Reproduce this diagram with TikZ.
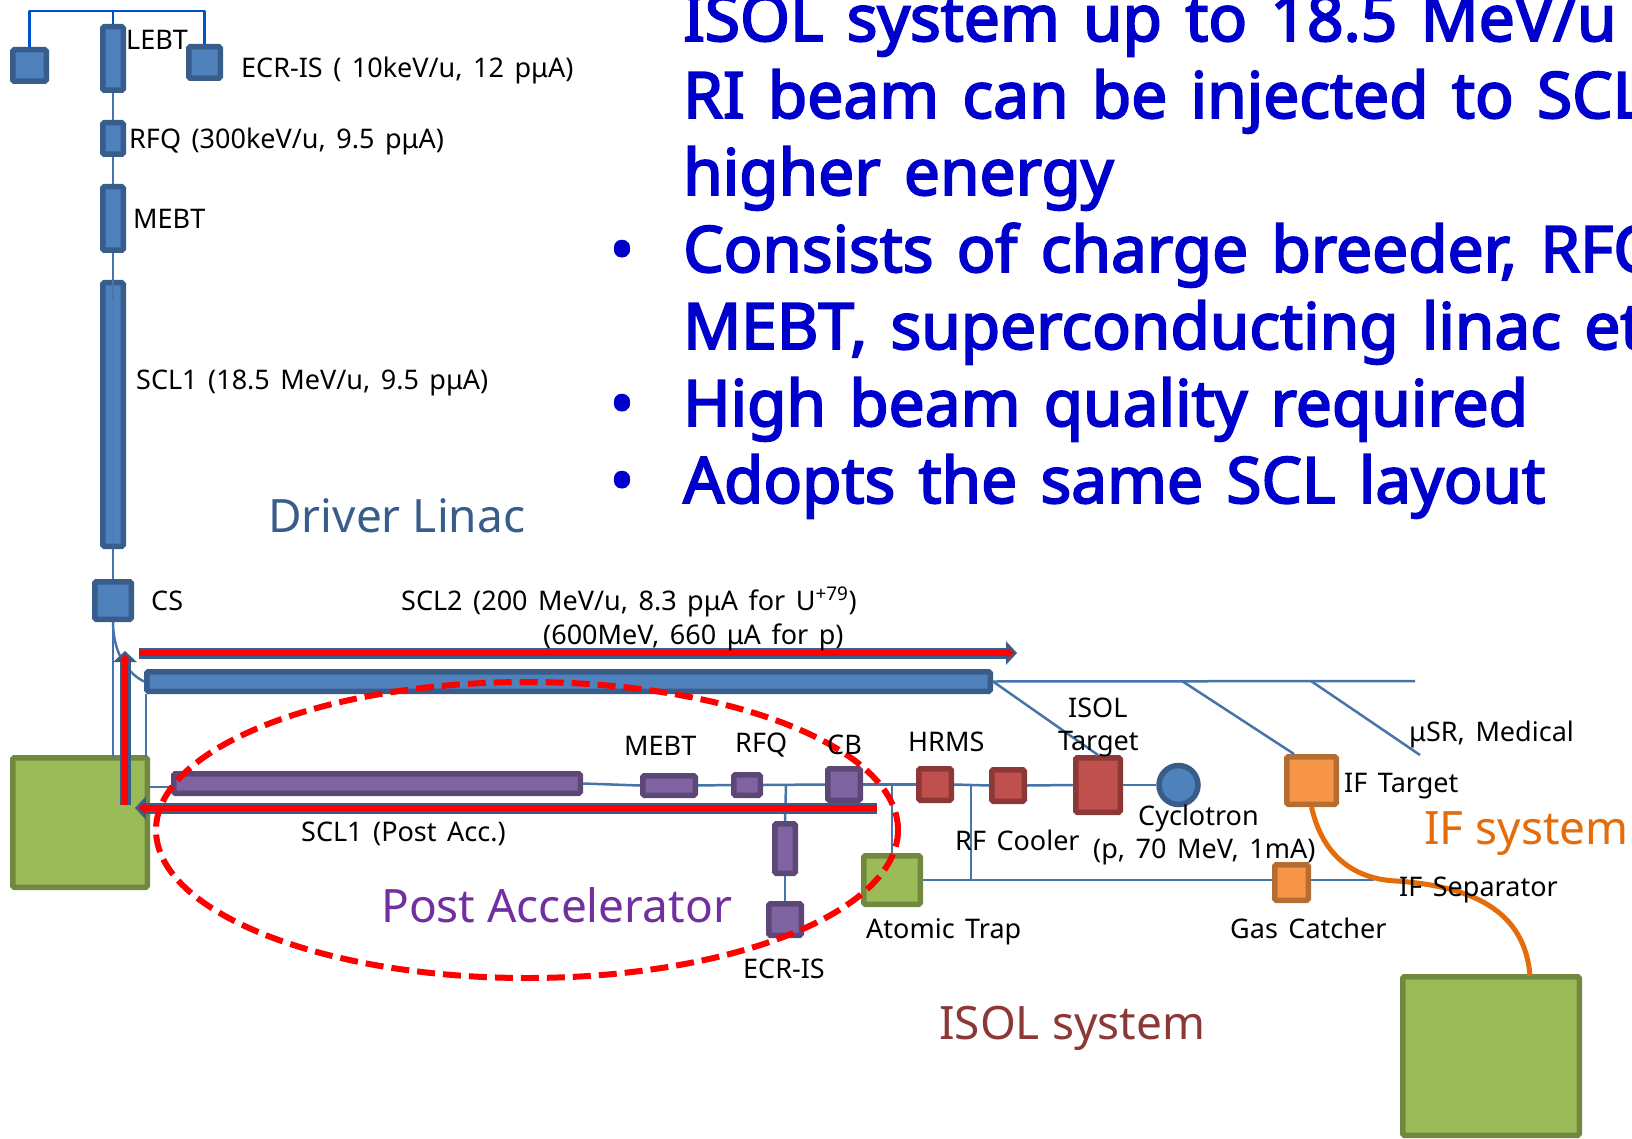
\documentclass[tikz,border=0pt]{standalone}
\usepackage{fontspec}
\setmainfont{Noto Sans}
\newfontfamily\lblfont{Noto Sans}[WordSpace=1.5]
\newfontfamily\sayfont{Noto Sans}[WordSpace=1.4,FakeBold=3]
\usetikzlibrary{arrows.meta,shapes.geometric}
\definecolor{blueF}{HTML}{4F81BD}
\definecolor{blueD}{HTML}{385D8A}
\definecolor{purpF}{HTML}{8064A2}
\definecolor{purpD}{HTML}{5C4776}
\definecolor{purpT}{HTML}{7030A0}
\definecolor{redF}{HTML}{C0504D}
\definecolor{redD}{HTML}{8C3836}
\definecolor{greenF}{HTML}{9BBB59}
\definecolor{greenD}{HTML}{71893F}
\definecolor{orgF}{HTML}{F79646}
\definecolor{orgD}{HTML}{B66D31}
\definecolor{orgL}{HTML}{E46C0A}
\begin{document}
\begin{tikzpicture}[
  x=1pt, y=-1pt,
  blk/.style={draw, line width=5.5pt, rounded corners=1.5pt, inner sep=0pt},
  bluebk/.style={blk, draw=blueD, fill=blueF},
  purpbk/.style={blk, draw=purpD, fill=purpF},
  redbk/.style={blk, draw=redD, fill=redF},
  greenbk/.style={blk, draw=greenD, fill=greenF},
  orgbk/.style={blk, draw=orgD, fill=orgF},
  beam/.style={draw=blueF!90!black, line width=2.5pt},
  lbl/.style={font=\lblfont\fontsize{27}{27}\selectfont, anchor=base west, inner sep=0pt, text=black},
  big/.style={font=\fontsize{46}{46}\selectfont, anchor=base west, inner sep=0pt},
  say/.style={font=\sayfont\fontsize{64}{64}\selectfont, anchor=base west, inner sep=0pt, text=blue!80!black},
  dot/.style={font=\sayfont\fontsize{64}{64}\selectfont, anchor=base, inner sep=0pt, text=blue!80!black},
  outerarr/.style={draw=blueD, line width=11pt, -{Triangle[length=11pt,width=23pt,fill=blueD]}},
  innerarr/.style={draw=red, line width=5.5pt, shorten >=3pt, -{Triangle[length=7pt,width=10pt,fill=red]}},
]
  \useasboundingbox (0,0) rectangle (1632,1139);
  \clip (0,0) rectangle (1632,1139);
  \newcommand{\blkat}[6]{% #1 style, #2 name, #3 left, #4 top, #5 right, #6 bottom
    \node[#1, minimum width={(#5-#3-5.5)*1pt}, minimum height={(#6-#4-5.5)*1pt}] (#2) at ({(#3+#5)/2},{(#4+#6)/2}) {};}

  % driver linac column
  \blkat{bluebk}{srcl}{10}{47}{49}{84}
  \blkat{bluebk}{srcr}{186}{44}{223}{81}
  \blkat{bluebk}{lebt}{100}{24}{126}{93}
  \blkat{bluebk}{rfq}{100}{120}{126}{157}
  \blkat{bluebk}{mebt}{100}{184}{126}{253}
  \blkat{bluebk}{sclone}{100}{280}{126}{549}
  \blkat{bluebk}{cs}{92}{579}{134}{622}
  \blkat{bluebk}{scltwo}{144}{669}{993}{694}
  \blkat{greenbk}{strip}{10}{755}{150}{890}

  % post accelerator row
  \blkat{purpbk}{post}{171}{771}{583}{796}
  \blkat{purpbk}{pmebt}{640}{773}{698}{798}
  \blkat{purpbk}{prfq}{731}{772}{763}{798}
  \blkat{purpbk}{cb}{825}{766}{863}{803}
  \blkat{purpbk}{pvert}{772}{821}{798}{876}
  \blkat{purpbk}{pecr}{766}{901}{804}{938}

  % isol row
  \blkat{redbk}{hrms}{916}{766}{954}{803}
  \blkat{redbk}{cooler}{989}{767}{1027}{804}
  \blkat{redbk}{isoltgt}{1073}{755}{1123}{815}
  \node[draw=blueD, fill=blueF, line width=5.5pt, circle, inner sep=0pt, minimum size=39pt] (cyclo) at (1178.5,785) {};
  \blkat{greenbk}{trap}{861}{853}{923}{907}
  \blkat{orgbk}{gas}{1272}{862}{1311}{903}
  \blkat{orgbk}{iftgt}{1284}{754}{1339}{807}
  \blkat{greenbk}{dump}{1400}{974}{1582}{1138}

  % free ends
  \coordinate (topl) at (29.5,11);
  \coordinate (topm) at (113,11);
  \coordinate (topr) at (204.5,11);
  \coordinate (tapa) at (1182,681);
  \coordinate (tapb) at (1311,681);
  \coordinate (tapend) at (1415,681);
  \coordinate (tapin) at (1294,754);
  \coordinate (med) at (1420,755);
  \coordinate (stripout) at (150,787);
  \coordinate (postin) at (171,787);
  \coordinate (trapout) at (923,880);
  \coordinate (gasin) at (1272,880);
  \coordinate (gasout) at (1311,880);
  \coordinate (sepend) at (1374,880);
  \coordinate (scltap) at (146,694);
  \coordinate (stripin) at (146,757);
  \coordinate (cstap) at (113,757);
  \coordinate (pj) at (786,785);
  \coordinate (tj) at (892,784.5);
  \coordinate (cj) at (971,784.5);
  \coordinate (sj) at (971,880);
  \coordinate (dumpin) at (1530,976);

  % beam lines
  \draw[draw=blue!60!cyan!80!black, line width=2.5pt, line join=round] (srcl.north) -- (topl) -- (topr) -- (srcr.north);
  \draw[draw=blue!60!cyan!80!black, line width=2.5pt] (topm) -- (lebt.north);
  \draw[beam] (lebt) -- (rfq);
  \draw[beam] (rfq) -- (mebt);
  \draw[beam] (mebt) -- ([yshift=-20pt]sclone.north);
  \draw[beam, opacity=.25] (sclone.north) -- (sclone.south);
  \draw[beam] (sclone.south) -- (cs.north);
  \draw[beam] (cs.south) -- (cstap);
  \draw[beam] (cs.south) .. controls (113,650) and (125,672) .. (scltwo.west);
  \draw[beam] (scltap) -- (stripin);
  \draw[beam] (scltwo.east) -- (tapend);
  \draw[beam] (scltwo.east) -- (isoltgt.north);
  \draw[beam] (tapa) -- (tapin);
  \draw[beam] (tapb) -- (med);
  \draw[beam] (stripout) -- (postin);
  \draw[beam] (post.east) -- (pmebt.west);
  \draw[beam] (pmebt.east) -- (prfq.west);
  \draw[beam] (prfq.east) -- (cb.west);
  \draw[beam] (pj) -- (pvert.north);
  \draw[beam] (pvert.south) -- (pecr.north);
  \draw[beam] (cb.east) -- (hrms.west);
  \draw[beam] (hrms.east) -- (cooler.west);
  \draw[beam] (cooler.east) -- (isoltgt.west);
  \draw[beam] (isoltgt.east) -- (cyclo.west);
  \draw[beam] (tj) -- (trap.north);
  \draw[beam] (cj) -- (sj);
  \draw[beam] (trapout) -- (gasin);
  \draw[beam] (gasout) -- (sepend);

  % if fragment path
  \draw[draw=orgL, line width=5pt] (iftgt.south) .. controls (1323,858) and (1356,879) .. (1396,881)
    .. controls (1471,886) and (1525,910) .. (dumpin);

  % red arrows
  \coordinate (upa) at (125,805);
  \coordinate (upb) at (125,651);
  \coordinate (rta) at (139,653);
  \coordinate (rtb) at (1017,653);
  \coordinate (lfa) at (877,808);
  \coordinate (lfb) at (135,808);
  \foreach \a/\b in {upa/upb,rta/rtb,lfa/lfb} {
    \draw[outerarr] (\a) -- (\b);
    \draw[innerarr] (\a) -- (\b);
  }

  % post accelerator outline
  \node[draw=red, line width=6pt, dash pattern=on 18pt off 8pt, ellipse, inner sep=0pt, minimum width=742pt, minimum height=296pt] (outl) at (527,830) {};

  % labels
  \node[lbl] (tlebt) at (126,50) {LEBT};
  \node[lbl] (tecr) at (241,78) {ECR-IS ( 10keV/u, 12 pμA)};
  \node[lbl] (trfq) at (129,149) {RFQ (300keV/u, 9.5 pμA)};
  \node[lbl] (tmebt) at (133,229) {MEBT};
  \node[lbl] (tscl) at (136,389) {SCL1 (18.5 MeV/u, 9.5 pμA)};
  \node[lbl] (tcs) at (151,610) {CS};
  \node[lbl] (tsclb) at (401,610) {SCL2 (200 MeV/u, 8.3 pμA for U\textsuperscript{+79})};
  \node[lbl] (tsclc) at (543,644) {(600MeV, 660 μA for p)};
  \node[lbl] (tpost) at (301,841) {SCL1 (Post Acc.)};
  \node[lbl] (tpm) at (624,755) {MEBT};
  \node[lbl] (tpr) at (735,752) {RFQ};
  \node[lbl] (tcb) at (827,754) {CB};
  \node[lbl] (thr) at (908,751) {HRMS};
  \node[lbl] (tisa) at (1068,717) {ISOL};
  \node[lbl] (tisb) at (1058,750) {Target};
  \node[lbl] (trf) at (955,850) {RF Cooler};
  \node[lbl] (tcya) at (1138,825) {Cyclotron};
  \node[lbl] (tcyb) at (1093,858) {(p, 70 MeV, 1mA)};
  \node[lbl] (tusr) at (1409,741) {μSR, Medical};
  \node[lbl] (tift) at (1344,792) {IF Target};
  \node[lbl] (tsep) at (1399,896) {IF Separator};
  \node[lbl] (tgas) at (1230,938) {Gas Catcher};
  \node[lbl] (tatom) at (866,938) {Atomic Trap};
  \node[lbl] (tecrb) at (743,978) {ECR-IS};

  \node[big, text=blueD] (tdrv) at (268,532) {Driver Linac};
  \node[big, text=purpT] (tpa) at (381,922) {Post Accelerator};
  \node[big, text=redD] (tisol) at (939,1039) {ISOL system};
  \node[big, text=orgL] (tifs) at (1424,844) {IF system};

  % bullet text
  \node[say] (sa) at (683,41) {ISOL system up to 18.5 MeV/u};
  \node[say] (sb) at (683,118) {RI beam can be injected to SCL};
  \node[say] (sc) at (683,195) {higher energy};
  \node[say] (sd) at (683,272) {Consists of charge breeder, RFQ};
  \node[say] (se) at (683,349) {MEBT, superconducting linac etc};
  \node[say] (sf) at (683,426) {High beam quality required};
  \node[say] (sg) at (683,503) {Adopts the same SCL layout};
  \foreach \n/\yy in {da/272,db/426,dc/503} \node[dot] (\n) at (622,\yy) {•};
\end{tikzpicture}
\end{document}
